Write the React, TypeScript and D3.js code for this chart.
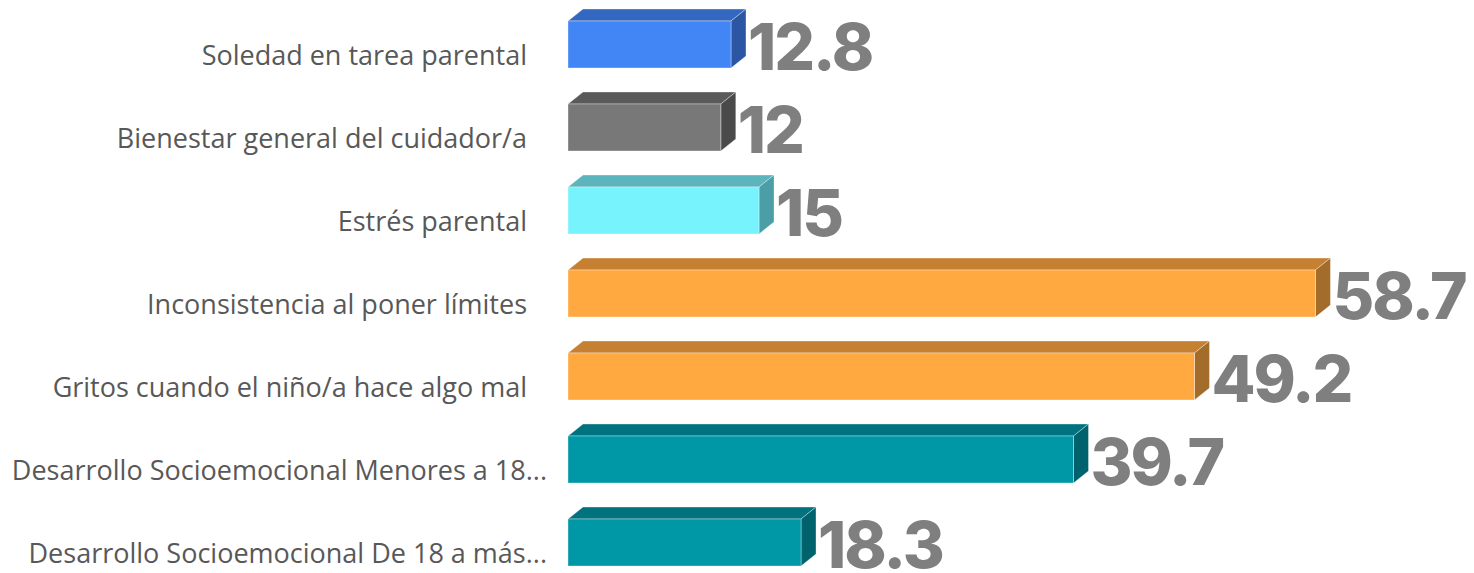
import React, { useEffect, useRef } from 'react';
import * as d3 from 'd3';

const categories = [
  'Soledad en tarea parental',
  'Bienestar general del cuidador/a',
  'Estrés parental',
  'Inconsistencia al poner límites',
  'Gritos cuando el niño/a hace algo mal',
  'Desarrollo Socioemocional Menores a 18...',
  'Desarrollo Socioemocional De 18 a más...',
];
const values = [12.8, 12, 15, 58.7, 49.2, 39.7, 18.3];
const valueLabels = ['12.8', '12', '15', '58.7', '49.2', '39.7', '18.3'];

// front / top / side colours for each bar
const frontColors = ['#4285f4', '#787878', '#77f3fe', '#ffa940', '#ffa940', '#0097a7', '#0097a7'];
const topColors = ['#3467c0', '#5a5a5a', '#5cb4bc', '#c58131', '#c58131', '#00737f', '#00737f'];
const sideColors = ['#2a56a3', '#4a4a4a', '#4c9ea6', '#a36c2b', '#a36c2b', '#00626c', '#00626c'];

const W = 1474;
const H = 573;

const App: React.FC = () => {
  const ref = useRef<SVGSVGElement>(null);

  useEffect(() => {
    const svg = d3.select(ref.current);
    svg.selectAll('*').remove();

    const x = d3.scaleLinear().domain([0, 60]).range([568, 1332]);
    const y = d3.scaleBand().domain(categories).range([0, 581]);

    const dx = 15;
    const dy = 12;
    const barTop = 21;
    const barH = 47;

    const data = categories.map((c, i) => ({ c, v: values[i], i }));

    const g = svg.selectAll('g.bar').data(data).enter().append('g').attr('class', 'bar');

    // top face
    g.append('path')
      .attr('d', (d) => {
        const x0 = x(0), x1 = x(d.v), y0 = y(d.c)! + barTop;
        return `M${x0},${y0}L${x0 + dx},${y0 - dy}L${x1 + dx},${y0 - dy}L${x1},${y0}Z`;
      })
      .attr('fill', (d) => topColors[d.i])
      .attr('stroke', 'rgba(255,255,255,0.35)')
      .attr('stroke-width', 1);

    // side face
    g.append('path')
      .attr('d', (d) => {
        const x1 = x(d.v), y0 = y(d.c)! + barTop, y1 = y0 + barH;
        return `M${x1},${y0}L${x1 + dx},${y0 - dy}L${x1 + dx},${y1 - dy}L${x1},${y1}Z`;
      })
      .attr('fill', (d) => sideColors[d.i])
      .attr('stroke', 'rgba(255,255,255,0.35)')
      .attr('stroke-width', 1);

    // front face
    g.append('rect')
      .attr('x', x(0))
      .attr('y', (d) => y(d.c)! + barTop)
      .attr('width', (d) => x(d.v) - x(0))
      .attr('height', barH)
      .attr('fill', (d) => frontColors[d.i])
      .attr('stroke', 'rgba(255,255,255,0.35)')
      .attr('stroke-width', 1);

    // values
    g.append('text')
      .attr('x', (d) => x(d.v) + dx + 2)
      .attr('y', (d) => y(d.c)! + barTop + barH + 2)
      .attr('font-family', 'Inter, sans-serif')
      .attr('font-weight', 800)
      .attr('font-size', 64)
      .attr('letter-spacing', -2)
      .attr('fill', '#7f7f7f')
      .text((d) => valueLabels[d.i]);

    // category labels
    g.append('text')
      .attr('x', (d) => (d.c.endsWith('...') ? 547 : 527))
      .attr('y', (d) => y(d.c)! + barTop + barH / 2 + 11)
      .attr('dy', '0.35em')
      .attr('text-anchor', 'end')
      .attr('font-family', '"Open Sans", sans-serif')
      .attr('font-size', 27)
      .attr('fill', '#585858')
      .text((d) => d.c);
  }, []);

  return (
    <svg
      ref={ref}
      width={W}
      height={H}
      style={{ position: 'absolute', left: 0, top: 0, background: '#fff' }}
    />
  );
};

export default App;
